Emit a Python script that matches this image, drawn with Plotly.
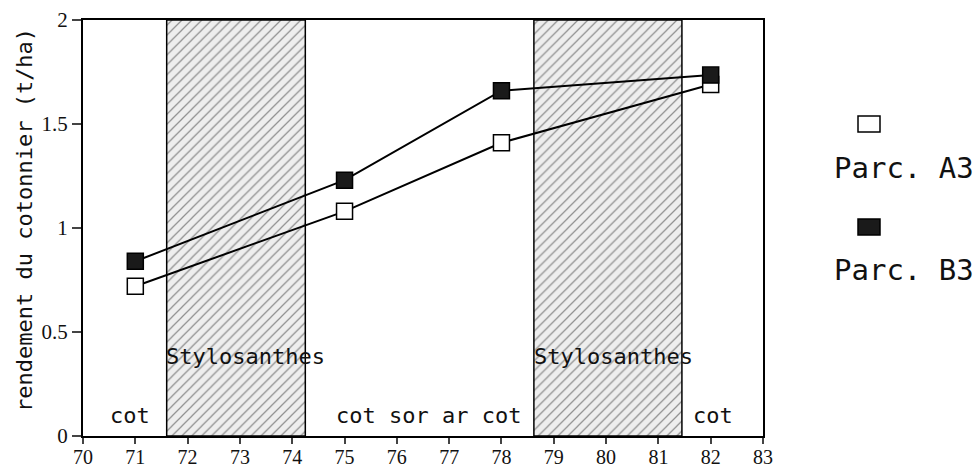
import plotly.graph_objects as go

years = [71, 75, 78, 82]
parc_a3 = [0.72, 1.08, 1.41, 1.69]
parc_b3 = [0.84, 1.23, 1.66, 1.735]
stylo_start = [71.6, 78.62]
stylo_end = [74.25, 81.45]
x_ticks = list(range(70, 84))
y_ticks = [0, 0.5, 1, 1.5, 2]
y_tick_text = ["0", "0.5", "1", "1.5", "2"]

crop_labels = ["cot", "Stylosanthes", "cot sor ar cot", "Stylosanthes", "cot"]
crop_x = [70.9, 73.1, 76.6, 80.15, 82.05]
crop_y = [0.1, 0.38, 0.1, 0.38, 0.1]

MONO = "DejaVu Sans Mono"

fig = go.Figure()

fig.add_trace(go.Bar(
    x=[(s + e) / 2 for s, e in zip(stylo_start, stylo_end)],
    y=[2, 2],
    width=[e - s for s, e in zip(stylo_start, stylo_end)],
    base=0,
    marker=dict(color="#eeeeee",
                pattern=dict(shape="/", fgcolor="#333333", bgcolor="#eeeeee", size=7, solidity=0.18),
                line=dict(color="black", width=1.5)),
    showlegend=False, hoverinfo="skip",
))

fig.add_trace(go.Scatter(
    x=years, y=parc_a3, mode="lines+markers", name="Parc. A3",
    line=dict(color="black", width=2),
    marker=dict(symbol="square", size=16, color="white", line=dict(color="black", width=1.5)),
    showlegend=False,
))
fig.add_trace(go.Scatter(
    x=years, y=parc_b3, mode="lines+markers", name="Parc. B3",
    line=dict(color="black", width=2),
    marker=dict(symbol="square", size=16, color="#1a1a1a", line=dict(color="black", width=1.5)),
    showlegend=False,
))

for t, x, y in zip(crop_labels, crop_x, crop_y):
    fig.add_annotation(x=x, y=y, text=t, showarrow=False, xanchor="center",
                       font=dict(family=MONO, size=22, color="#111"))

# page pixel -> paper coords of the plot area
def px2paper(px, py):
    return (px - 83) / 680, (436 - py) / 416

# y-axis title as rotated annotation
tx, ty = px2paper(25, 220)
fig.add_annotation(xref="paper", yref="paper", x=tx, y=ty, text="rendement du cotonnier (t/ha)",
                   textangle=-90, showarrow=False, xanchor="center", yanchor="middle",
                   font=dict(family=MONO, size=22, color="#111"))

# custom legend to the right
for (sx, sy), fill, label, (lx, ly) in [
    ((869, 124), "white", "Parc. A3", (904, 168)),
    ((869, 227), "#1a1a1a", "Parc. B3", (904, 270)),
]:
    x0, y0 = px2paper(sx - 11, sy + 8)
    x1, y1 = px2paper(sx + 11, sy - 8)
    fig.add_shape(type="rect", xref="paper", yref="paper", x0=x0, x1=x1, y0=y0, y1=y1,
                  line=dict(color="black", width=1.5), fillcolor=fill)
    ax, ay = px2paper(lx, ly)
    fig.add_annotation(xref="paper", yref="paper", x=ax, y=ay, text=label, showarrow=False,
                       xanchor="center", yanchor="middle",
                       font=dict(family=MONO, size=29, color="#111"))

fig.update_layout(
    width=978, height=469,
    margin=dict(l=83, r=215, t=20, b=33),
    plot_bgcolor="white", paper_bgcolor="white",
    showlegend=False,
    xaxis=dict(range=[70, 83], tickvals=x_ticks, ticks="outside", ticklen=6, tickwidth=1.5,
               showline=True, linecolor="black", linewidth=2, mirror=True, showgrid=False,
               zeroline=False, automargin=False, ticklabelstandoff=-4,
               tickfont=dict(family="Liberation Serif", size=20, color="#111")),
    yaxis=dict(range=[0, 2], tickvals=y_ticks, ticktext=y_tick_text, ticks="outside", ticklen=9,
               tickwidth=1.5, showline=True, linecolor="black", linewidth=2, mirror=True,
               showgrid=False, zeroline=False, automargin=False,
               tickfont=dict(family="Liberation Serif", size=21, color="#111")),
)

fig.write_html("out.html", config={"displayModeBar": False},
               post_script="document.body.style.margin='0';document.body.style.overflow='hidden';")
